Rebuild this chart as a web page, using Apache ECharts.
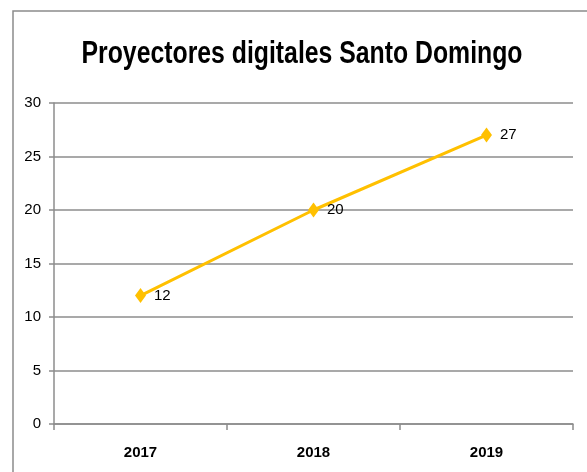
<!DOCTYPE html>
<html>
<head>
<meta charset="utf-8">
<script src="https://cdn.jsdelivr.net/npm/echarts@6/dist/echarts.min.js"></script>
<style>
  html, body { margin: 0; padding: 0; background: #fff; }
  #chart { width: 587px; height: 472px; }
</style>
</head>
<body>
<div id="chart"></div>
<script>
// datos del gráfico
var titulo = 'Proyectores digitales Santo Domingo'
var years = ['2017', '2018', '2019']
var proyectores = [12, 20, 27]
var yTicks = { min: 0, max: 30, interval: 5 }

var font = '"Liberation Sans", Arial, sans-serif'

var myChart = echarts.init(document.getElementById('chart'))
var options = {
  animation: false,
  graphic: [
    // marco exterior
    {
      type: 'rect',
      shape: { x: 13, y: 11, width: 600, height: 500 },
      style: { fill: 'none', stroke: '#8c8c8c', lineWidth: 1.5 },
      silent: true
    },
    // título (letra condensada)
    {
      type: 'text',
      x: 302,
      y: 54,
      scaleX: 0.775,
      silent: true,
      style: {
        text: titulo,
        textAlign: 'center',
        textVerticalAlign: 'middle',
        fontFamily: font,
        fontSize: 32,
        fontWeight: 'bold',
        fill: '#000'
      }
    }
  ],
  grid: {
    left: 54,
    right: 14,
    top: 103,
    bottom: 48
  },
  xAxis: {
    type: 'category',
    data: years,
    boundaryGap: true,
    axisLine: { lineStyle: { color: '#8c8c8c', width: 1.5 } },
    axisTick: { show: true, length: 6, lineStyle: { color: '#8c8c8c', width: 1.5 } },
    axisLabel: {
      fontFamily: font,
      fontSize: 15,
      fontWeight: 'bold',
      color: '#000',
      margin: 21
    }
  },
  yAxis: {
    type: 'value',
    min: yTicks.min,
    max: yTicks.max,
    interval: yTicks.interval,
    axisLine: { show: true, lineStyle: { color: '#8c8c8c', width: 1.5 } },
    axisTick: { show: true, length: 5, lineStyle: { color: '#8c8c8c', width: 1.5 } },
    splitLine: { lineStyle: { color: '#8c8c8c', width: 1.5 } },
    axisLabel: {
      fontFamily: font,
      fontSize: 15,
      color: '#000',
      margin: 13
    }
  },
  series: [
    {
      name: 'Proyectores',
      type: 'line',
      data: proyectores,
      symbol: 'diamond',
      symbolSize: [11, 15],
      lineStyle: { color: '#ffc000', width: 3 },
      itemStyle: { color: '#ffc000' },
      label: {
        show: true,
        position: 'right',
        distance: 8,
        fontFamily: font,
        fontSize: 15,
        color: '#000'
      }
    }
  ]
}
myChart.setOption(options)
</script>
</body>
</html>
